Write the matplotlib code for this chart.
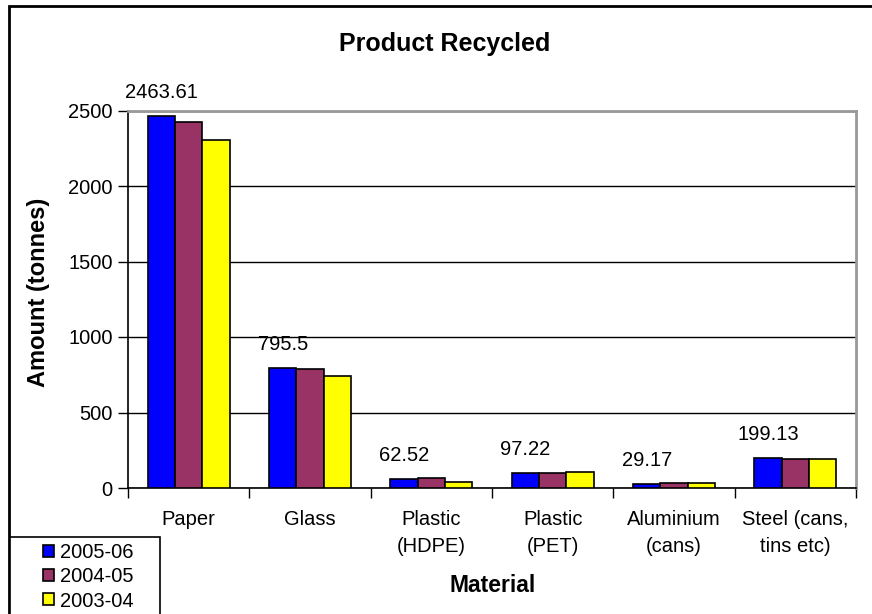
import numpy as np
import matplotlib
matplotlib.use("Agg")
import matplotlib.pyplot as plt
from matplotlib.patches import Rectangle

plt.rcParams['font.family'] = ['Liberation Sans', 'DejaVu Sans']

materials = ['Paper', 'Glass', 'Plastic\n(HDPE)', 'Plastic\n(PET)',
             'Aluminium\n(cans)', 'Steel (cans,\ntins etc)']
years = ['2005-06', '2004-05', '2003-04']
y2005 = [2463.61, 795.5, 62.52, 97.22, 29.17, 199.13]
y2004 = [2425, 785, 63, 97, 30, 190]
y2003 = [2305, 745, 42, 106, 30, 190]
colors = ['#0000FF', '#993366', '#FFFF00']

fig = plt.figure(figsize=(8.72, 6.14), dpi=100)
ax = fig.add_axes([128/872, 126/614, 728/872, 377.5/614])

x = np.arange(len(materials))
w = 0.225
series = [y2005, y2004, y2003]
for i, (vals, c, lab) in enumerate(zip(series, colors, years)):
    ax.bar(x + (i - 1) * w, vals, w, color=c, edgecolor='black', linewidth=1.2,
           label=lab, zorder=3)

# data labels on the first series
for xi, v in zip(x, y2005):
    ax.annotate(f'{v:g}', (xi - w, v), xytext=(0, 10), textcoords='offset points',
                ha='center', va='bottom', fontsize=14.5)

ax.set_xlim(-0.5, len(materials) - 0.5)
ax.set_ylim(0, 2500)
ax.set_yticks(np.arange(0, 2501, 500))
ax.yaxis.grid(True, color='black', linewidth=1, zorder=0)
ax.set_xticks(np.arange(-0.5, len(materials)), minor=False)
ax.set_xticklabels([])
ax.set_xticks(x, minor=True)
ax.set_xticklabels(materials, minor=True, fontsize=14.5, linespacing=1.55)
ax.tick_params(axis='x', which='minor', length=0, pad=16)
ax.tick_params(axis='x', which='major', length=7, width=1, direction='out')
ax.tick_params(axis='y', length=7, width=1, direction='out', labelsize=14.5, pad=4)

for s in ['left', 'bottom']:
    ax.spines[s].set_color('black')
    ax.spines[s].set_linewidth(1.2)
for s in ['top', 'right']:
    ax.spines[s].set_color('#999999')
    ax.spines[s].set_linewidth(2)

fig.text(445/872, 1 - 44/614, 'Product Recycled', ha='center', va='center',
         fontsize=18, fontweight='bold')
fig.text(493/872, 1 - 586/614, 'Material', ha='center', va='center',
         fontsize=16.5, fontweight='bold')
fig.text(38/872, 1 - 292/614, 'Amount (tonnes)', ha='center', va='center',
         rotation=90, fontsize=17, fontweight='bold')

# outer chart border
fig.patches.append(Rectangle((9/872, -0.1), 1.2, 1 - 6/614 + 0.1,
                             transform=fig.transFigure, fill=False,
                             edgecolor='black', linewidth=2))

# legend box
fig.patches.append(Rectangle((10/872, -0.05), 150/872, 0.05 + 77/614,
                             transform=fig.transFigure, fill=True,
                             facecolor='white', edgecolor='black',
                             linewidth=1.2, zorder=5))
leg = fig.legend(loc='center', bbox_to_anchor=(88/872, 1 - 577/614),
                 fontsize=14.5, frameon=False,
                 handlelength=0.55, handleheight=0.55, handletextpad=0.3,
                 labelspacing=0.25, borderpad=0)
leg.set_zorder(6)

fig.savefig('out.png', dpi=100)
